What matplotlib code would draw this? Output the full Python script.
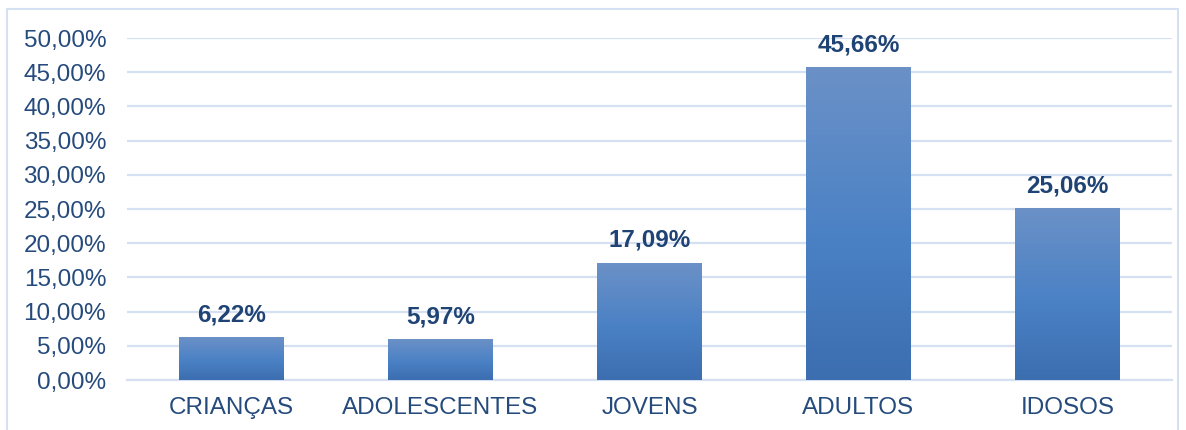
import matplotlib
matplotlib.use("Agg")
import matplotlib.pyplot as plt
import numpy as np
from matplotlib.colors import LinearSegmentedColormap
from matplotlib.patches import Rectangle

categories = ["CRIANÇAS", "ADOLESCENTES", "JOVENS", "ADULTOS", "IDOSOS"]
values = [6.22, 5.97, 17.09, 45.66, 25.06]
yticks = [0, 5, 10, 15, 20, 25, 30, 35, 40, 45, 50]

plt.rcParams['font.family'] = ['Liberation Sans', 'DejaVu Sans']
text_color = "#254a7c"
label_color = "#1f4374"
grid_color = "#d5e1f2"

fig = plt.figure(figsize=(11.86, 4.30), dpi=100)
fig.patches.append(Rectangle((7/1186, -0.01), (1178-7)/1186, (430-9)/430 + 0.01,
                             transform=fig.transFigure, fill=False,
                             edgecolor=grid_color, linewidth=1.5))
ax = fig.add_axes([127/1186, (430-380)/430, (1172-127)/1186, (380-38)/430])

x = np.arange(len(categories))
width = 0.5
bars = ax.bar(x, values, width=width, color="none", edgecolor="none", zorder=3)

cmap = LinearSegmentedColormap.from_list("g", [(0, "#3c6eb0"), (0.45, "#4a81c5"), (1, "#6b91c7")])
grad = np.linspace(0, 1, 256).reshape(-1, 1)
for b in bars:
    x0, w, h = b.get_x(), b.get_width(), b.get_height()
    ax.imshow(grad, cmap=cmap, origin="lower", aspect="auto",
              extent=[x0, x0 + w, 0, h], zorder=3)

for xi, v in zip(x, values):
    ax.annotate(f"{v:.2f}%".replace(".", ","), (xi, v), xytext=(0, 8),
                textcoords="offset points", ha="center", va="bottom",
                fontsize=17.5, fontweight="bold", color=label_color, zorder=4)

ax.set_xlim(-0.5, len(categories) - 0.5)
ax.set_ylim(0, 50)
ax.set_yticks(yticks)
ax.set_yticklabels([f"{t:.2f}%".replace(".", ",") for t in yticks])
ax.set_xticks(x)
ax.set_xticklabels(categories)
ax.tick_params(axis="y", length=0, pad=15, labelsize=17.5, labelcolor=text_color)
ax.tick_params(axis="x", length=0, pad=12, labelsize=17.5, labelcolor=text_color)
ax.grid(axis="y", color=grid_color, linewidth=1.6, zorder=0)
ax.set_axisbelow(True)
for s in ["top", "right", "left"]:
    ax.spines[s].set_visible(False)
ax.spines["bottom"].set_color(grid_color)
ax.spines["bottom"].set_linewidth(1.6)

fig.savefig("out.png", dpi=100)
